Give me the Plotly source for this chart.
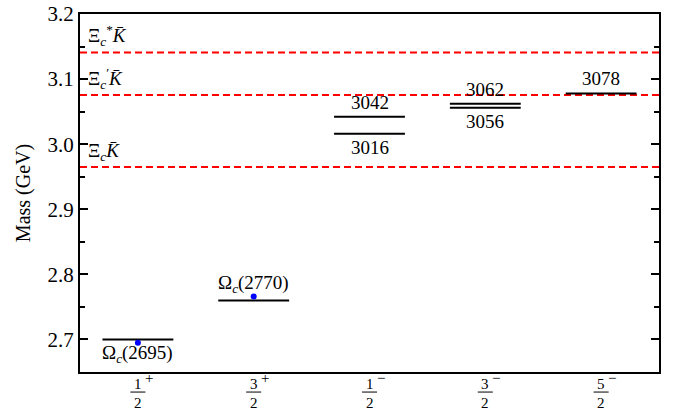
import plotly.graph_objects as go

# ---- data ----
categories = ["1/2+", "3/2+", "1/2-", "3/2-", "5/2-"]
cat_num = ["1", "3", "1", "3", "5"]
cat_den = ["2", "2", "2", "2", "2"]
cat_sign = ["+", "+", "−", "−", "−"]

# theoretical levels (GeV)
level_cat = [0, 1, 2, 2, 3, 3, 4]
level_mass = [2.700, 2.760, 3.042, 3.016, 3.062, 3.056, 3.078]
level_text = ["Ω<sub><i>c</i></sub>(2695)", "Ω<sub><i>c</i></sub>(2770)",
              "3042", "3016", "3062", "3056", "3078"]
level_above = [False, True, True, False, True, False, True]

# experimental points
exp_cat = [0, 1]
exp_mass = [2.695, 2.766]

# thresholds
thr_mass = [3.141, 3.0755, 2.965]
thr_text = ["Ξ<sub><i>c</i></sub><sup>*</sup><i>K̄</i>",
            "Ξ<sub><i>c</i></sub><sup>′</sup><i>K̄</i>",
            "Ξ<sub><i>c</i></sub><i>K̄</i>"]

FONT = "Liberation Serif"
HALF = 0.306

fig = go.Figure()

for m in thr_mass:
    fig.add_trace(go.Scatter(x=[-0.5, 4.5], y=[m, m], mode="lines",
                             line=dict(color="#ff0000", width=2, dash="7px,4px"),
                             hoverinfo="skip", showlegend=False))

for c, m in zip(level_cat, level_mass):
    fig.add_trace(go.Scatter(x=[c - HALF, c + HALF], y=[m, m], mode="lines",
                             line=dict(color="black", width=2),
                             hoverinfo="skip", showlegend=False))

fig.add_trace(go.Scatter(x=exp_cat, y=exp_mass, mode="markers",
                         marker=dict(color="#0000ff", size=6),
                         showlegend=False))

annotations = []
for c, m, t, above in zip(level_cat, level_mass, level_text, level_above):
    annotations.append(dict(x=c, y=m, xref="x", yref="y", text=t, showarrow=False,
                            yanchor="bottom" if above else "top",
                            yshift=2 if above else -1,
                            font=dict(family=FONT, size=19, color="black")))

for m, t in zip(thr_mass, thr_text):
    annotations.append(dict(x=0, y=m, xref="paper", yref="y", text=t, showarrow=False,
                            xanchor="left", yanchor="bottom", xshift=6, yshift=1,
                            font=dict(family=FONT, size=19, color="black")))

shapes = []
for i in range(len(categories)):
    annotations.append(dict(x=i, y=0, xref="x", yref="paper", text=cat_num[i],
                            showarrow=False, yanchor="middle", yshift=-12,
                            font=dict(family=FONT, size=15, color="black")))
    annotations.append(dict(x=i, y=0, xref="x", yref="paper", text=cat_den[i],
                            showarrow=False, yanchor="middle", yshift=-31,
                            font=dict(family=FONT, size=15, color="black")))
    annotations.append(dict(x=i, y=0, xref="x", yref="paper", text=cat_sign[i],
                            showarrow=False, yanchor="middle", xshift=11, yshift=-6,
                            font=dict(family=FONT, size=15, color="black")))
    shapes.append(dict(type="line", xref="x", yref="paper",
                       x0=i - 0.065, x1=i + 0.065, y0=-0.056, y1=-0.056,
                       line=dict(color="black", width=1)))

fig.update_layout(
    width=678, height=411,
    margin=dict(l=80, r=19, t=14, b=39),
    paper_bgcolor="white", plot_bgcolor="white",
    annotations=annotations, shapes=shapes,
    font=dict(family=FONT, size=19, color="black"),
    xaxis=dict(range=[-0.5, 4.5], showticklabels=False, ticks="",
               showgrid=False, zeroline=False, showline=True,
               linecolor="black", linewidth=2, mirror=True),
    yaxis=dict(range=[2.65, 3.2], dtick=0.1, tick0=2.7, tickformat=".1f",
               ticks="inside", ticklen=8, tickwidth=1.5, tickcolor="black",
               minor=dict(ticks="inside", ticklen=5, dtick=0.05, tick0=2.65,
                          tickwidth=1.5, tickcolor="black"),
               showgrid=False, zeroline=False, showline=True,
               linecolor="black", linewidth=2, mirror="ticks",
               automargin=False,
               tickfont=dict(family=FONT, size=21),
               title=dict(text="Mass (GeV)", font=dict(family=FONT, size=20),
                          standoff=12)),
)

fig.write_html("out.html",
               config={"displayModeBar": False},
               post_script="document.body.style.margin='0';document.body.style.padding='0';"
                           "var d=document.getElementById('{plot_id}');"
                           "if(d&&d.parentElement){d.parentElement.style.margin='0';}")
